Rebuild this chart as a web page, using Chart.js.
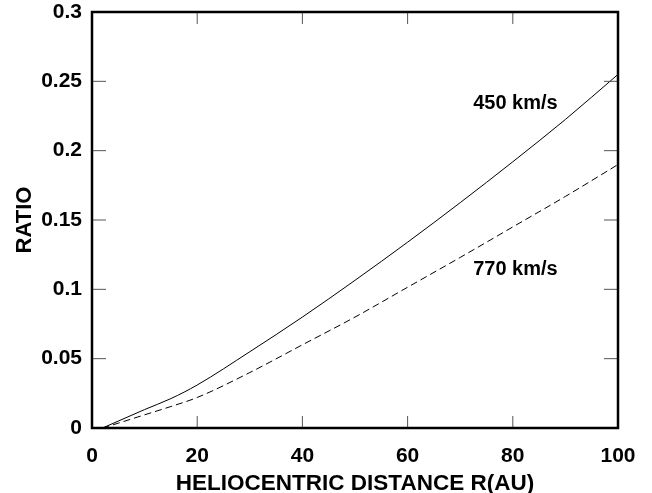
<!DOCTYPE html>
<html>
<head>
<meta charset="utf-8">
<script src="https://cdn.jsdelivr.net/npm/chart.js@4"></script>
<style>
  html, body { margin: 0; padding: 0; background: #fff; }
  #wrap { width: 652px; height: 493px; }
</style>
</head>
<body>
<div id="wrap"><canvas id="ratioChart" width="652" height="493"></canvas></div>
<script>
let distance = [2, 5, 10, 15, 20, 30, 40, 50, 60, 70, 80, 90, 100];
let ratio450 = [0, 0.005, 0.0133, 0.0212, 0.031, 0.055, 0.080, 0.1065, 0.134, 0.1625, 0.192, 0.2225, 0.255];
let ratio770 = [0, 0.0035, 0.0095, 0.0155, 0.022, 0.040, 0.060, 0.080, 0.1015, 0.123, 0.145, 0.167, 0.190];
let xTicks = [0, 20, 40, 60, 80, 100];
let yTicks = [0, 0.05, 0.1, 0.15, 0.2, 0.25, 0.3];
let curveLabels = [
    {text: '450 km/s', x: 80.5, y: 0.234},
    {text: '770 km/s', x: 80.5, y: 0.114}
];

const fontFamily = '"Liberation Sans", Arial, sans-serif';

// frame, inward ticks and curve labels
const framePlugin = {
    id: 'frame',
    afterDraw(chart) {
        const ctx = chart.ctx;
        const a = chart.chartArea;
        const xs = chart.scales.x, ys = chart.scales.y;
        ctx.save();
        ctx.strokeStyle = '#555';
        ctx.lineWidth = 1;
        ctx.beginPath();
        xTicks.forEach(v => {
            let px = xs.getPixelForValue(v);
            ctx.moveTo(px, a.bottom); ctx.lineTo(px, a.bottom - 12);
            ctx.moveTo(px, a.top); ctx.lineTo(px, a.top + 12);
        });
        yTicks.forEach(v => {
            let py = ys.getPixelForValue(v);
            ctx.moveTo(a.left, py); ctx.lineTo(a.left + 14, py);
            ctx.moveTo(a.right, py); ctx.lineTo(a.right - 14, py);
        });
        ctx.stroke();
        ctx.strokeStyle = '#000';
        ctx.lineWidth = 2.5;
        ctx.strokeRect(a.left, a.top, a.right - a.left, a.bottom - a.top);
        ctx.fillStyle = '#000';
        ctx.font = 'bold 20px ' + fontFamily;
        ctx.textAlign = 'center';
        ctx.textBaseline = 'middle';
        curveLabels.forEach(l => {
            ctx.fillText(l.text, xs.getPixelForValue(l.x), ys.getPixelForValue(l.y));
        });
        ctx.restore();
    }
};

new Chart(document.querySelector('#ratioChart'), {
    type: 'line',
    data: {
        datasets: [{
            label: '450 km/s',
            data: distance.map((d, i) => ({x: d, y: ratio450[i]})),
            borderColor: '#000',
            borderWidth: 1,
            pointRadius: 0,
            cubicInterpolationMode: 'monotone',
            fill: false
        }, {
            label: '770 km/s',
            data: distance.map((d, i) => ({x: d, y: ratio770[i]})),
            borderColor: '#000',
            borderWidth: 1,
            borderDash: [7, 4],
            pointRadius: 0,
            cubicInterpolationMode: 'monotone',
            fill: false
        }]
    },
    options: {
        animation: false,
        responsive: false,
        layout: {padding: {top: 12, right: 34, left: 0, bottom: 0}},
        plugins: {legend: {display: false}, tooltip: {enabled: false}},
        scales: {
            x: {
                type: 'linear',
                min: 0, max: 100,
                afterBuildTicks: s => { s.ticks = xTicks.map(v => ({value: v})); },
                grid: {display: false},
                border: {display: false},
                ticks: {color: '#000', font: {family: fontFamily, size: 21, weight: 'bold'}, padding: 8, maxRotation: 0},
                title: {display: true, text: 'HELIOCENTRIC DISTANCE R(AU)', color: '#000',
                    font: {family: fontFamily, size: 22.5, weight: 'bold'}, padding: {top: 1, bottom: -4}},
                afterFit: s => { s.height = 65; s.paddingLeft = 0; s.paddingRight = 0; }
            },
            y: {
                min: 0, max: 0.3,
                afterBuildTicks: s => { s.ticks = yTicks.map(v => ({value: v})); },
                grid: {display: false},
                border: {display: false},
                ticks: {color: '#000', font: {family: fontFamily, size: 21, weight: 'bold'}, padding: 2,
                    callback: v => String(v)},
                title: {display: true, text: 'RATIO', color: '#000',
                    font: {family: fontFamily, size: 22, weight: 'bold'}, padding: {top: 12, bottom: 0}},
                afterFit: s => { s.width = 92; s.paddingTop = 0; s.paddingBottom = 0; }
            }
        }
    },
    plugins: [framePlugin]
});
</script>
</body>
</html>
